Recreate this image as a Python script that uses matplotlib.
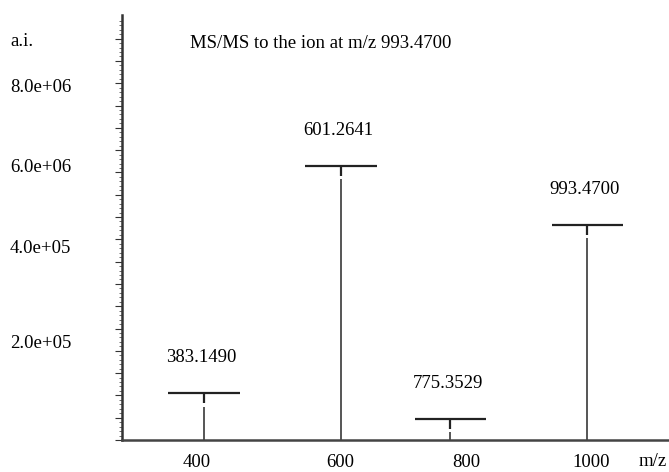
import numpy as np
import matplotlib
matplotlib.use("Agg")
import matplotlib.pyplot as plt
import matplotlib.transforms as mtransforms

# ------------------------------------------------------------------
#   spectrum data (intensity in arbitrary display units)
# ------------------------------------------------------------------

peak_mz = [383.1490, 601.2641, 775.3529, 993.4700]
peak_int = [2.1, 12.3, 0.94, 9.64]
peak_labels = ["383.1490", "601.2641", "775.3529", "993.4700"]

xtick_pos = [372, 600, 800, 1000]
xtick_labels = ["400", "600", "800", "1000"]

ylabel_pos = [17.85, 15.8, 12.2, 8.6, 4.35]
ylabel_text = ["a.i.", "8.0e+06", "6.0e+06", "4.0e+05", "2.0e+05"]

title = "MS/MS to the ion at m/z 993.4700"

# ------------------------------------------------------------------

plt.rcParams['font.family'] = ['Liberation Serif', 'DejaVu Serif']
fs = 13.5

fig = plt.figure(figsize=(6.69, 4.72), dpi=100)
ax = fig.add_axes([0.1824, 0.0678, 0.8176, 0.9004])

ax.set_xlim(252.4, 1123.4)
ax.set_ylim(0, 19.06)

bar_half = 57          # half width of the label bar (m/z units)
stub = 0.45            # dark stub under the bar
gap = 0.15             # small break in the peak line

for mz, h, lab in zip(peak_mz, peak_int, peak_labels):
    ax.vlines(mz, 0, h - stub - gap, color="#555555", lw=1.4)
    ax.vlines(mz, h - stub, h, color="#222222", lw=1.6)
    ax.hlines(h, mz - bar_half, mz + bar_half, color="#222222", lw=1.6)
    ax.text(mz - 4, h + 1.6, lab, ha="center", va="center", fontsize=fs)

# axes look
for s in ["top", "right"]:
    ax.spines[s].set_visible(False)
ax.spines["left"].set_color("#333333")
ax.spines["left"].set_linewidth(1.8)
ax.spines["bottom"].set_color("#444444")
ax.spines["bottom"].set_linewidth(1.8)

ax.set_yticks(np.arange(0, 19, 1))
ax.set_yticks(np.arange(0, 19, 0.2), minor=True)
ax.tick_params(axis="y", which="major", length=5, width=0.8, color="#333333",
               labelleft=False)
ax.tick_params(axis="y", which="minor", length=2.5, width=0.6, color="#555555")

ax.set_xticks(xtick_pos)
ax.set_xticklabels(xtick_labels, fontsize=fs)
ax.tick_params(axis="x", which="major", length=0, pad=10)

# y labels drawn as text at the left edge
trans = mtransforms.blended_transform_factory(fig.transFigure, ax.transData)
for yp, txt in zip(ylabel_pos, ylabel_text):
    ax.text(10 / 669, yp, txt, transform=trans, ha="left", va="center",
            fontsize=fs)

fig.text(653 / 669, 1 - 461 / 472, "m/z", ha="center", va="center", fontsize=fs)
fig.text(321 / 669, 1 - 44 / 472, title, ha="center", va="center", fontsize=fs)

fig.savefig("out.png", dpi=100)
